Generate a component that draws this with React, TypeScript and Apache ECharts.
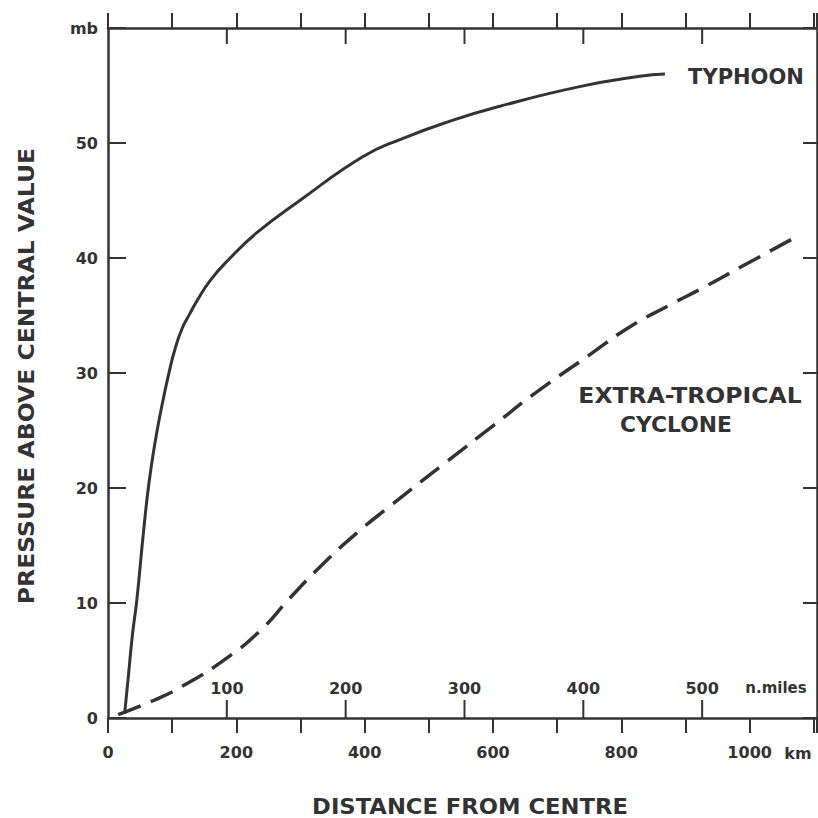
import React, { useEffect, useRef } from "react";
import * as echarts from "echarts";

// Typhoon profile (distance km, pressure above central value mb)
const typhoonKm = [26, 32, 38, 45, 55, 64, 75, 86, 95, 104, 115, 127, 139, 160, 187, 232, 299, 397, 455, 533, 611, 735, 829, 868];
const typhoonMb = [0.4, 3.8, 7.2, 10.3, 16.0, 20.5, 24.5, 27.7, 30.0, 32.0, 33.8, 35.1, 36.3, 38.1, 39.8, 42.2, 45.0, 48.8, 50.3, 51.9, 53.2, 54.9, 55.8, 56.0];

// Extra-tropical cyclone profile
const extraKm = [16, 70, 117, 185, 241, 283, 335, 388, 439, 528, 600, 662, 751, 813, 875, 927, 989, 1078];
const extraMb = [0.3, 1.5, 2.8, 5.2, 7.8, 10.4, 13.4, 16.1, 18.4, 22.3, 25.4, 28.1, 31.6, 34.0, 35.9, 37.4, 39.3, 42.0];

const kmLabels = [0, 200, 400, 600, 800, 1000];
const nmiTicks = [100, 200, 300, 400, 500];
const mbLabels = [0, 10, 20, 30, 40, 50];

const KM_MAX = 1105;
const KM_PER_NMI = 1.852;
const MB_MAX = 60;

const INK = "#333333";
const FONT = "DejaVu Sans";

const textEl = (x: number, y: number, text: string, fontSize: number, extra: any = {}) => ({
  type: "text", x, y, ...extra,
  style: {
    text, fill: INK, fontFamily: FONT, fontWeight: "bold", fontSize,
    align: "center", verticalAlign: "middle", textAlign: "center", textVerticalAlign: "middle",
  },
});

export default function App() {
  const ref = useRef<HTMLDivElement>(null);

  useEffect(() => {
    if (!ref.current) return;
    const chart = echarts.init(ref.current, undefined, { renderer: "svg" });

    const typhoon = typhoonKm.map((k, i) => [k, typhoonMb[i]]);
    const extra = extraKm.map((k, i) => [k, extraMb[i]]);

    const lineStyle = { color: INK, width: 2.5 };
    const tickStyle = { color: INK, width: 2 };
    const labelBase = { color: INK, fontFamily: FONT, fontWeight: "bold" as const, fontSize: 16 };

    const option: any = {
      animation: false,
      backgroundColor: "#ffffff",
      grid: { left: 108, top: 28, right: 1, bottom: 100, containLabel: false, outerBoundsMode: "none" },
      xAxis: [
        {
          type: "value", position: "bottom", min: 0, max: KM_MAX, interval: 100,
          axisLine: { show: true, onZero: false, lineStyle },
          axisTick: { show: true, inside: false, length: 15, lineStyle: tickStyle },
          axisLabel: {
            ...labelBase, margin: 26,
            formatter: (v: number) => (kmLabels.includes(v) ? String(v) : ""),
          },
          splitLine: { show: false },
        },
        {
          type: "value", position: "bottom", min: 0, max: KM_MAX / KM_PER_NMI, interval: 100,
          axisLine: { show: false, onZero: false },
          axisTick: { show: false },
          axisLabel: {
            ...labelBase, inside: true, margin: 22,
            formatter: (v: number) => (nmiTicks.includes(v) ? String(v) : ""),
          },
          splitLine: { show: false },
        },
        {
          type: "value", position: "top", min: 0, max: KM_MAX, interval: 100,
          axisLine: { show: true, onZero: false, lineStyle },
          axisTick: { show: true, inside: false, length: 15, lineStyle: tickStyle },
          axisLabel: { show: false },
          splitLine: { show: false },
        },
      ],
      yAxis: [
        {
          type: "value", position: "left", min: 0, max: MB_MAX, interval: 10,
          axisLine: { show: true, onZero: false, lineStyle },
          axisTick: { show: true, inside: true, length: 18, lineStyle: tickStyle },
          axisLabel: {
            ...labelBase, margin: 10,
            formatter: (v: number) => (v === MB_MAX ? "mb" : mbLabels.includes(v) ? String(v) : ""),
          },
          splitLine: { show: false },
        },
        {
          type: "value", position: "right", min: 0, max: MB_MAX, interval: 10,
          axisLine: { show: true, onZero: false, lineStyle },
          axisTick: { show: true, inside: true, length: 14, lineStyle: tickStyle },
          axisLabel: { show: false },
          splitLine: { show: false },
        },
      ],
      series: [
        {
          name: "TYPHOON", type: "line", xAxisIndex: 0, yAxisIndex: 0,
          data: typhoon, showSymbol: false, symbol: "none",
          smooth: 0.5,
          lineStyle: { color: INK, width: 3 },
        },
        {
          name: "EXTRA-TROPICAL CYCLONE", type: "line", xAxisIndex: 0, yAxisIndex: 0,
          data: extra, showSymbol: false, symbol: "none",
          smooth: 0.5,
          lineStyle: { color: INK, width: 3.5, type: [24, 11] },
        },
      ],
    };

    chart.setOption(option);

    // top edge of the plot area, from the grid's own layout
    let yTop = NaN;
    try {
      const grid = (chart as any).getModel().getComponent("grid", 0);
      yTop = grid.coordinateSystem.getRect().y;
    } catch (e) {
      yTop = NaN;
    }
    if (!isFinite(yTop)) yTop = 28;

    // nautical-mile ticks (inside) on the bottom and top frame, placed through the chart's scales
    const tickEls: any[] = [];
    nmiTicks.forEach((v) => {
      const pb = chart.convertToPixel({ xAxisIndex: 0, yAxisIndex: 0 } as any, [v * KM_PER_NMI, 0]) as number[];
      if (pb && isFinite(pb[0]) && isFinite(pb[1])) {
        tickEls.push({
          type: "line", silent: true, z: 100,
          shape: { x1: pb[0], y1: pb[1], x2: pb[0], y2: pb[1] - 18 },
          style: { stroke: INK, lineWidth: 2 },
        });
        tickEls.push({
          type: "line", silent: true, z: 100,
          shape: { x1: pb[0], y1: yTop, x2: pb[0], y2: yTop + 16 },
          style: { stroke: INK, lineWidth: 2 },
        });
      }
    });

    chart.setOption({
      graphic: [
        ...tickEls,
        textEl(746, 77, "TYPHOON", 21),
        textEl(690, 395, "EXTRA-TROPICAL", 21, { scaleX: 1.12 }),
        textEl(676, 425, "CYCLONE", 21, { scaleX: 1.04 }),
        textEl(776, 688, "n.miles", 15),
        textEl(798, 753, "km", 16),
        textEl(470, 806, "DISTANCE FROM CENTRE", 22, { scaleX: 1.03 }),
        textEl(26, 376, "PRESSURE ABOVE CENTRAL VALUE", 22, { rotation: Math.PI / 2, scaleX: 1.07 }),
      ],
    });

    return () => chart.dispose();
  }, []);

  return (
    <div
      ref={ref}
      style={{ position: "absolute", left: 0, top: 0, width: 818, height: 818, background: "#fff" }}
    />
  );
}
